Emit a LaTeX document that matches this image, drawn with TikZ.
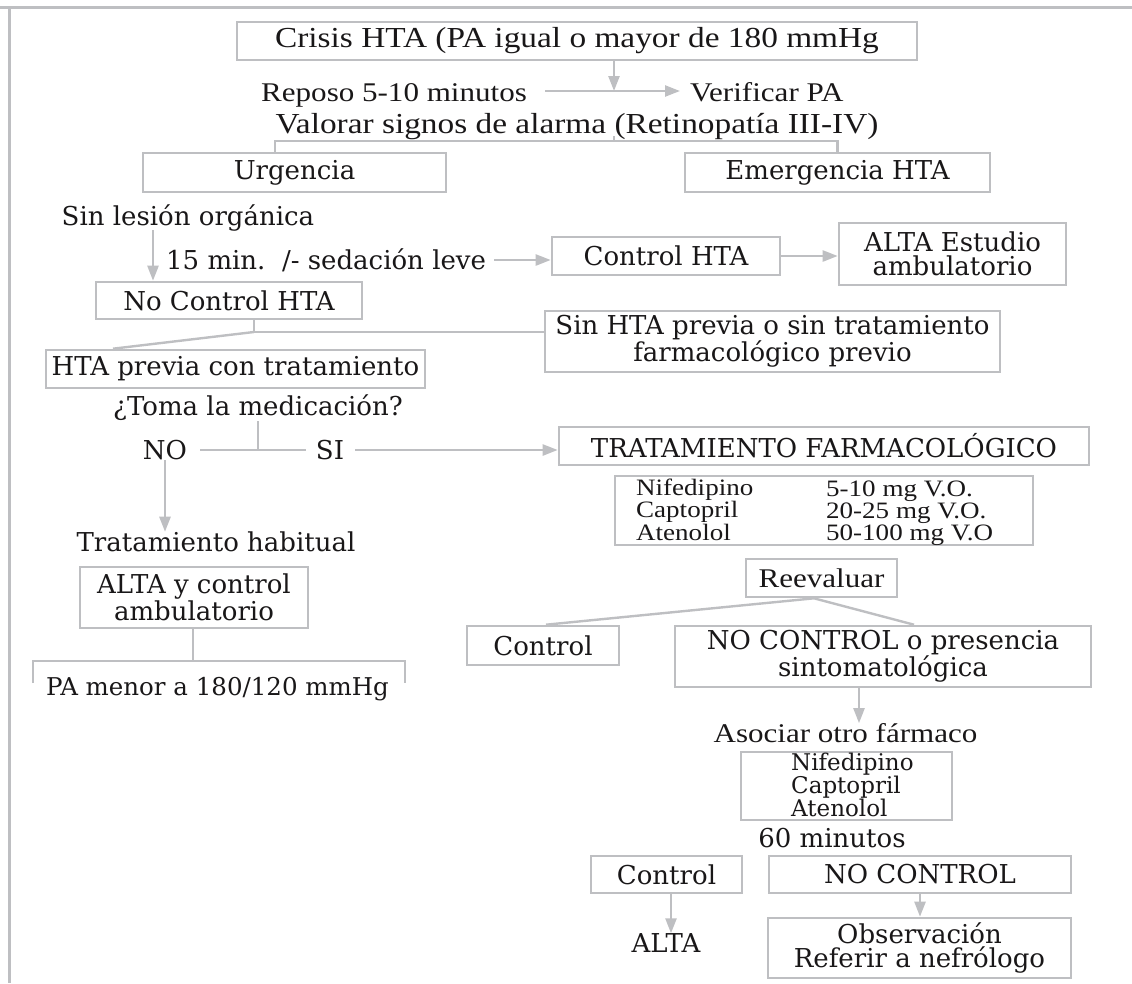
\documentclass[tikz,border=0pt]{standalone}
\usepackage{fontspec}
\setmainfont{DejaVu Serif}
\newfontfamily\cnd[FakeStretch=1.15]{Liberation Serif}
\usetikzlibrary{arrows.meta}
\definecolor{lg}{RGB}{190,191,194}
\definecolor{ink}{RGB}{25,23,24}
\tikzset{
  frame/.style={draw=lg, line width=3pt},
  bx/.style={draw=lg, line width=2.6pt, inner sep=0pt, align=center, text=ink},
  ln/.style={draw=lg, line width=2.4pt},
  ar/.style={ln, -{Triangle[length=15pt,width=11pt]}},
  tx/.style={inner sep=0pt, text=ink, align=center},
  wf/.style={font=\fontsize{26}{24}\selectfont},
  cfa/.style={font=\cnd\fontsize{29}{30}\selectfont},
  cfb/.style={font=\cnd\fontsize{27}{28}\selectfont},
  cft/.style={font=\cnd\fontsize{23.5}{20.5}\selectfont},
  nf/.style={font=\fontsize{23}{22}\selectfont},
}
\begin{document}
\begin{tikzpicture}[x=1pt,y=-1pt]
\useasboundingbox (0,0) rectangle (1132,983);
% frame
\coordinate (f0) at (0,7); \coordinate (f1) at (1132,7);
\coordinate (f2) at (9,7); \coordinate (f3) at (9,983);
\draw[frame] (f0) -- (f1);
\draw[frame] (f2) -- (f3);

% top
\node[bx,cfa,minimum width=680,minimum height=38] (A) at (577,41) {Crisis HTA (PA igual o mayor de 180 mmHg};
\node[tx,cfb,anchor=base west] (rep) at (261,101) {Reposo 5-10 minutos};
\node[tx,cfb,anchor=base west] (ver) at (690,101) {Verificar PA};
\coordinate (j1) at (614,91);
\draw[ar] (A.south -| j1) -- (j1);
\draw[ar] ([xshift=18pt]rep.east |- j1) -- ([xshift=-10pt]ver.west |- j1);
\node[tx,cfa,anchor=base] (val) at (577,133) {Valorar signos de alarma (Retinopatía III-IV)};
\node[bx,wf,minimum width=303,minimum height=39] (urg) at (294.5,172.5) {Urgencia};
\node[bx,wf,minimum width=305,minimum height=39] (eme) at (837.5,172.5) {Emergencia HTA};
\coordinate (j2) at (614,141);
\coordinate (b0) at (275,0);
\draw[ln] (val.base -| j2) ++(0,-3pt) -- (j2);
\draw[ln] (urg.north -| b0) |- (j2) -| (eme.north);

% urgencia branch
\node[tx,wf] (sl) at (188,218) {Sin lesión orgánica};
\node[bx,wf,minimum width=266,minimum height=37] (nc) at (229,300.5) {No Control HTA};
\coordinate (a3) at (153,230);
\draw[ar] (a3) -- (a3 |- nc.north);
\node[tx,wf,anchor=west] (qm) at (166,260) {15 min.\ \ /- sedación leve};
\node[bx,wf,minimum width=228,minimum height=38] (cht) at (666,256) {Control HTA};
\draw[ar] ([xshift=8pt]qm.east) -- (qm.east -| cht.west);
\node[bx,wf,minimum width=227,minimum height=62] (alta1) at (952.5,254) {ALTA Estudio\\ambulatorio};
\draw[ar] (cht.east) -- (cht.east -| alta1.west);

% no control
\node[bx,wf,minimum width=455,minimum height=61] (shta) at (772.5,341.5) {Sin HTA previa o sin tratamiento\\farmacológico previo};
\coordinate (j3) at (254,332);
\draw[ln] (nc.south -| j3) -- (j3) -- (j3 -| shta.west);
\node[bx,wf,minimum width=379,minimum height=38] (hp) at (235.5,369) {HTA previa con tratamiento};
\coordinate (d1) at (113,0);
\draw[ln] (j3) -- (hp.north -| d1);

% toma
\node[tx,wf] (tm) at (258,408) {¿Toma la medicación?};
\coordinate (j4) at (258,450);
\node[tx,wf] (no) at (165,450) {NO};
\node[tx,wf] (si) at (330,450) {SI};
\draw[ln] (tm.south -| j4) -- (j4);
\draw[ln] ([xshift=13pt]no.east) -- ([xshift=-10pt]si.west);
\node[bx,wf,minimum width=530,minimum height=38] (trat) at (824,446) {TRATAMIENTO FARMACOLÓGICO};
\draw[ar] ([xshift=11pt]si.east) -- (si.east -| trat.west);
\node[tx,wf] (th) at (216,542) {Tratamiento habitual};
\draw[ar] (no.south) -- (no.south |- th.north);

% table
\node[bx,minimum width=418,minimum height=69] (tab) at (824,510.5) {};
\node[tx,cft,align=left,anchor=base west] (tc1) at (636,540) {Nifedipino\\Captopril\\Atenolol};
\node[tx,cft,align=left,anchor=base west] (tc2) at (826,540) {5-10 mg V.O.\\20-25 mg V.O.\\50-100 mg V.O};

% reevaluar
\node[bx,cfb,minimum width=151,minimum height=38] (ree) at (821.5,578) {Reevaluar};
\node[bx,wf,minimum width=152,minimum height=39] (ctl) at (543,645.5) {Control};
\node[bx,wf,minimum width=416,minimum height=61] (ncp) at (883,656.5) {NO CONTROL o presencia\\sintomatológica};
\coordinate (r1) at (814,0);
\coordinate (r2) at (546,0);
\coordinate (r3) at (914,0);
\draw[ln] (ctl.north -| r2) -- (ree.south -| r1) -- (ncp.north -| r3);

% alta y control
\node[bx,wf,minimum width=228,minimum height=61] (ayc) at (194,597.5) {ALTA y control\\ambulatorio};
\coordinate (b1) at (193,661);
\coordinate (b2) at (33,683);
\coordinate (b3) at (405,683);
\draw[ln] (ayc.south -| b1) -- (b1);
\draw[ln] (b2) |- (b1) -| (b3);
\node[tx,font=\fontsize{24.5}{24}\selectfont] (pam) at (217.5,689) {PA menor a 180/120 mmHg};

% asociar
\node[tx,cfb] (aso) at (845.5,733) {Asociar otro fármaco};
\coordinate (a5) at (859,0);
\draw[ar] (ncp.south -| a5) -- (aso.north -| a5);
\node[bx,minimum width=211,minimum height=68] (nb2) at (846.5,786) {};
\node[tx,nf,align=left,anchor=west] (nbt) at (791,785) {Nifedipino\\Captopril\\Atenolol};
\node[tx,wf] (sixty) at (832,838) {60 minutos};

% bottom
\node[bx,wf,minimum width=151,minimum height=37] (c2) at (666.5,874.5) {Control};
\node[bx,wf,minimum width=302,minimum height=37] (nc2) at (920,874.5) {NO CONTROL};
\node[tx,wf] (alta2) at (666,943) {ALTA};
\coordinate (a6) at (671,0);
\draw[ar] (c2.south -| a6) -- (alta2.north -| a6);
\node[bx,wf,minimum width=303,minimum height=60] (obs) at (919.5,948) {Observación\\Referir a nefrólogo};
\coordinate (a7) at (920,0);
\draw[ar] (nc2.south -| a7) -- (obs.north -| a7);
\end{tikzpicture}
\end{document}
